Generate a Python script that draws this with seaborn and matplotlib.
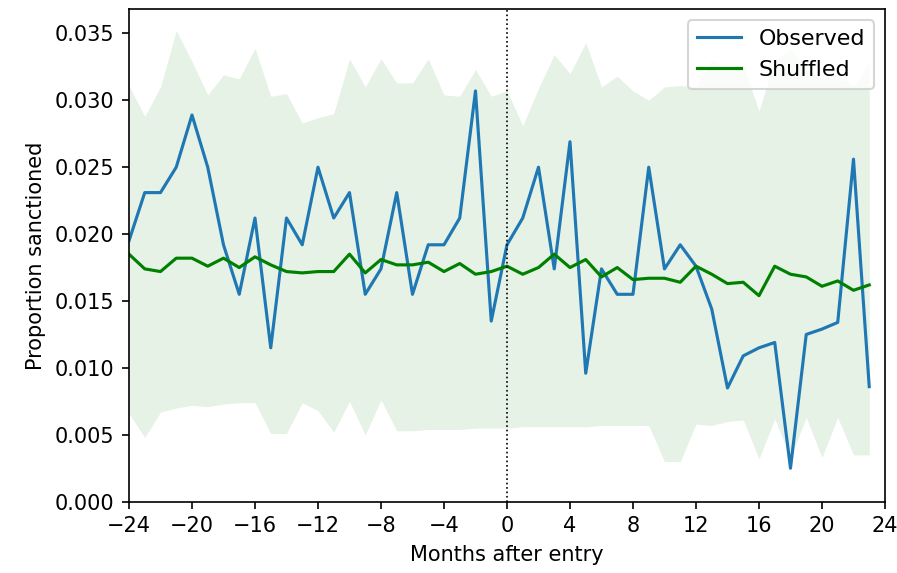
import matplotlib
matplotlib.use("Agg")
import matplotlib.pyplot as plt
import seaborn as sns
import numpy as np
import pandas as pd

months = list(range(-24, 24))

observed = [0.0195, 0.0231, 0.0231, 0.0250, 0.0289, 0.0250, 0.0192, 0.0155,
            0.0212, 0.0115, 0.0212, 0.0192, 0.0250, 0.0212, 0.0231, 0.0155,
            0.0174, 0.0231, 0.0155, 0.0192, 0.0192, 0.0212, 0.0307, 0.0135,
            0.0192, 0.0212, 0.0250, 0.0174, 0.0269, 0.0096, 0.0174, 0.0155,
            0.0155, 0.0250, 0.0174, 0.0192, 0.0176, 0.0144, 0.0085, 0.0109,
            0.0115, 0.0119, 0.0025, 0.0125, 0.0129, 0.0134, 0.0256, 0.0086]

shuffled = [0.0185, 0.0174, 0.0172, 0.0182, 0.0182, 0.0176, 0.0182, 0.0175,
            0.0183, 0.0177, 0.0172, 0.0171, 0.0172, 0.0172, 0.0185, 0.0171,
            0.0181, 0.0177, 0.0177, 0.0179, 0.0172, 0.0178, 0.0170, 0.0172,
            0.0176, 0.0170, 0.0175, 0.0185, 0.0175, 0.0181, 0.0168, 0.0175,
            0.0166, 0.0167, 0.0167, 0.0164, 0.0176, 0.0170, 0.0163, 0.0164,
            0.0154, 0.0176, 0.0170, 0.0168, 0.0161, 0.0165, 0.0158, 0.0162]

shuffled_upper = [0.0311, 0.0288, 0.0310, 0.0352, 0.0329, 0.0304, 0.0319, 0.0316,
                  0.0339, 0.0303, 0.0305, 0.0283, 0.0287, 0.0290, 0.0331, 0.0310,
                  0.0331, 0.0313, 0.0313, 0.0331, 0.0304, 0.0303, 0.0323, 0.0303,
                  0.0307, 0.0281, 0.0309, 0.0334, 0.0320, 0.0343, 0.0310, 0.0318,
                  0.0307, 0.0300, 0.0310, 0.0311, 0.0310, 0.0330, 0.0322, 0.0326,
                  0.0292, 0.0330, 0.0338, 0.0325, 0.0316, 0.0320, 0.0310, 0.0328]

shuffled_lower = [0.0066, 0.0048, 0.0067, 0.0070, 0.0072, 0.0071, 0.0073, 0.0074,
                  0.0074, 0.0051, 0.0051, 0.0074, 0.0068, 0.0052, 0.0075, 0.0050,
                  0.0076, 0.0053, 0.0053, 0.0054, 0.0054, 0.0054, 0.0055, 0.0055,
                  0.0055, 0.0056, 0.0056, 0.0056, 0.0056, 0.0056, 0.0057, 0.0057,
                  0.0057, 0.0057, 0.0030, 0.0030, 0.0058, 0.0057, 0.0060, 0.0061,
                  0.0032, 0.0062, 0.0033, 0.0063, 0.0033, 0.0063, 0.0035, 0.0035]

df = pd.DataFrame({"month": months, "observed": observed, "shuffled": shuffled,
                   "lower": shuffled_lower, "upper": shuffled_upper})

fig = plt.figure(figsize=(5.98, 3.82), dpi=150)
ax = fig.add_axes([0.1438, 0.1244, 0.8428, 0.8594])

# 95% band of the shuffled baseline
ax.fill_between(df["month"], df["lower"], df["upper"], color="green", alpha=0.1, linewidth=0)
sns.lineplot(data=df, x="month", y="observed", ax=ax, color="C0", label="Observed", linewidth=1.5)
sns.lineplot(data=df, x="month", y="shuffled", ax=ax, color="green", label="Shuffled", linewidth=1.5)
ax.axvline(0, color="black", linestyle=":", linewidth=0.8)

ax.set_xlim(-24, 24)
ax.set_ylim(0, 0.0368)
ax.set_xticks(range(-24, 25, 4))
ax.set_yticks(np.arange(0, 0.0351, 0.005))
ax.yaxis.set_major_formatter(matplotlib.ticker.FormatStrFormatter("%.3f"))
ax.set_xlabel("Months after entry")
ax.set_ylabel("Proportion sanctioned")
ax.legend(loc="upper right", fontsize=10.6)

fig.savefig("out.png", dpi=150)
